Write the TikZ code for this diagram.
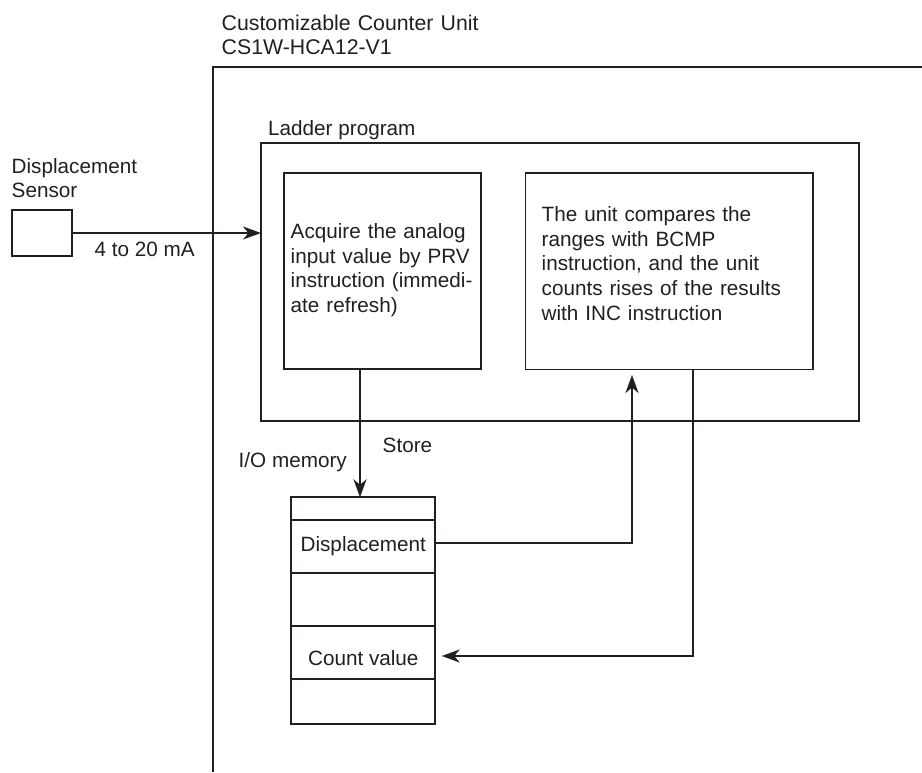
\documentclass[tikz,border=0pt]{standalone}
\usepackage{fontspec}
\setmainfont{Liberation Sans}
\usetikzlibrary{arrows.meta}
\definecolor{ink}{RGB}{35,31,32}
\begin{document}
\begin{tikzpicture}[x=1pt,y=-1pt,
  box/.style={draw=ink, line width=1.9pt, inner sep=0pt, outer sep=0pt, anchor=north west},
  txt/.style={inner sep=0pt, anchor=base west, text=ink, font=\fontsize{20.7}{24.6}\selectfont},
  mtxt/.style={txt, text width=300pt, align=left},
  arr/.style={draw=ink, line width=1.9pt, -{Stealth[length=18pt,width=13pt,inset=5.5pt]}},
  wire/.style={draw=ink, line width=1.9pt}]
\useasboundingbox (0,0) rectangle (922,772);
% outer unit frame
\coordinate (ucorner) at (213,66.7);
\draw[wire] (213,772) -- (ucorner) -- (922,66.7);
\node[mtxt, font=\fontsize{21.3}{23.3}\selectfont] (utitle) at (221.5,30.7) {Customizable Counter Unit\\CS1W-HCA12-V1};
% ladder program
\node[txt] (ltitle) at (268,135) {Ladder program};
\node[box, minimum width=597.7pt, minimum height=278.5pt] (ladder) at (261,142.7) {};
\node[box, minimum width=196.7pt, minimum height=196pt] (lbox) at (284,173) {};
\node[box, minimum width=287.5pt, minimum height=196.5pt] (rbox) at (525.5,173) {};
\node[mtxt] (ltext) at (290.5,238.5) {Acquire the analog\\input value by PRV\\instruction (immedi-\\ate refresh)};
\node[mtxt] (rtext) at (541.5,221.7) {The unit compares the\\ranges with BCMP\\instruction, and the unit\\counts rises of the results\\with INC instruction};
% sensor
\node[mtxt] (stitle) at (11.5,173.3) {Displacement\\Sensor};
\node[box, minimum width=60.3pt, minimum height=46pt] (sensor) at (12,210) {};
\node[txt] (malab) at (94.5,256) {4 to 20 mA};
\draw[arr] (sensor.east) -- (sensor.east -| ladder.west);
% I/O memory
\node[txt] (iolab) at (238.5,467) {I/O memory};
\node[txt] (storelab) at (382.5,452.3) {Store};
\node[box, minimum width=144pt, minimum height=22.7pt] (m0) at (291.3,497.3) {};
\node[box, minimum width=144pt, minimum height=52.7pt] (m1) at (m0.south west) {};
\node[box, minimum width=144pt, minimum height=53.3pt] (m2) at (m1.south west) {};
\node[box, minimum width=144pt, minimum height=53pt] (m3) at (m2.south west) {};
\node[box, minimum width=144pt, minimum height=45.3pt] (m4) at (m3.south west) {};
\node[txt, anchor=base] (dlab) at (363.3,551) {Displacement};
\node[txt, anchor=base] (clab) at (363.3,665) {Count value};
% connectors
\coordinate (st) at (360,369);
\draw[arr] (st) -- (st |- m0.north);
\coordinate (upt) at (632,375);
\draw[arr] ([yshift=3.5pt]m1.east) -| (upt);
\coordinate (cnt) at (692.7,369.5);
\coordinate (cntend) at (441.7,656);
\draw[arr] (cnt) |- (cntend);
\end{tikzpicture}
\end{document}
